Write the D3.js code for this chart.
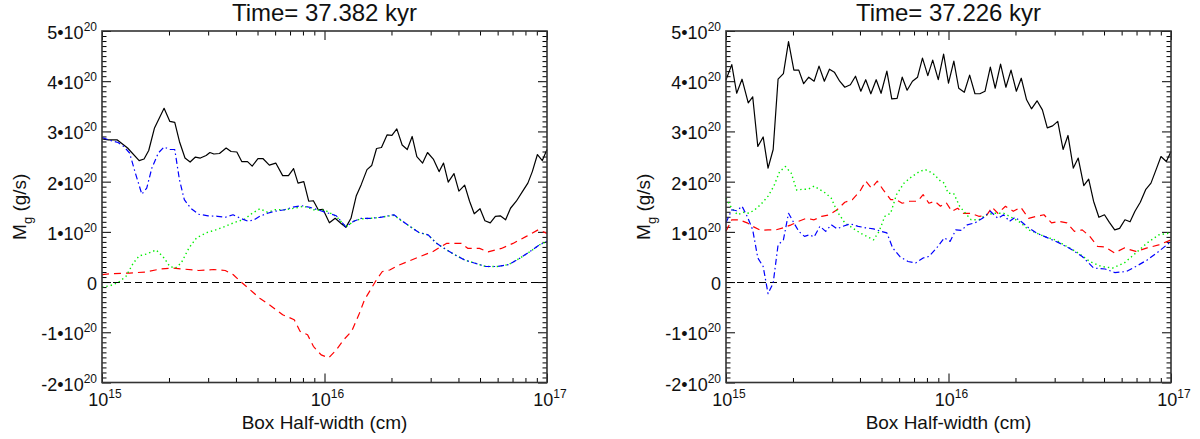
<!DOCTYPE html>
<html>
<head>
<meta charset="utf-8">
<script src="https://cdn.jsdelivr.net/npm/d3@7"></script>
<style>
  html, body { margin: 0; padding: 0; background: #fff; }
  svg { display: block; font-family: "Liberation Sans", Arial, Helvetica, sans-serif; }
</style>
</head>
<body>
<svg id="chart" width="1200" height="439"></svg>
<script>
// ---------------- DATA ----------------
// x: log10(box half-width / cm), y: mass flux in units of 1e20 g/s
const titles = ["Time= 37.382 kyr", "Time= 37.226 kyr"];
const xTitle = "Box Half-width (cm)";
const xMajorTicks = [1e15, 1e16, 1e17];
const xMajorExp = ["15", "16", "17"];
const yMajorTicks = [-2, -1, 0, 1, 2, 3, 4, 5];      // x 1e20
const yTickMantissa = ["-2", "-1", "0", "1", "2", "3", "4", "5"];
const yTickExp = "20";

// Left panel (t = 37.382 kyr)
const leftSolid = [
 [15.000,2.85],[15.029,2.83],[15.069,2.83],[15.115,2.67],[15.167,2.42],[15.189,2.45],[15.210,2.62],
 [15.236,3.07],[15.279,3.46],[15.305,3.20],[15.327,3.18],[15.348,2.80],[15.373,2.47],[15.396,2.39],
 [15.420,2.49],[15.442,2.47],[15.468,2.52],[15.485,2.58],[15.503,2.55],[15.528,2.56],[15.558,2.67],
 [15.580,2.60],[15.606,2.59],[15.628,2.40],[15.654,2.40],[15.675,2.31],[15.701,2.46],[15.723,2.46],
 [15.752,2.33],[15.781,2.37],[15.812,2.12],[15.838,2.12],[15.861,2.26],[15.881,1.97],[15.907,2.00],
 [15.929,1.61],[15.950,1.62],[15.972,1.44],[15.993,1.45],[16.022,1.18],[16.048,1.27],[16.076,1.16],
 [16.096,1.09],[16.119,1.27],[16.143,1.72],[16.165,1.94],[16.191,2.24],[16.212,2.32],[16.234,2.66],
 [16.256,2.68],[16.281,2.93],[16.303,2.92],[16.325,3.05],[16.349,2.73],[16.372,2.64],[16.394,2.90],
 [16.415,2.50],[16.441,2.37],[16.463,2.58],[16.489,2.45],[16.515,2.20],[16.535,2.37],[16.556,1.99],
 [16.582,2.16],[16.604,1.81],[16.630,1.93],[16.652,1.61],[16.673,1.36],[16.699,1.46],[16.721,1.22],
 [16.745,1.18],[16.768,1.31],[16.790,1.32],[16.814,1.24],[16.836,1.47],[16.862,1.61],[16.888,1.79],
 [16.914,1.97],[16.934,2.20],[16.957,2.54],[16.979,2.42],[17.000,2.64]
];
const leftDashed = [
 [15.000,0.15],[15.055,0.17],[15.124,0.18],[15.193,0.20],[15.262,0.26],[15.313,0.28],[15.365,0.26],
 [15.434,0.23],[15.503,0.25],[15.554,0.23],[15.589,0.15],[15.623,0.01],[15.657,-0.12],[15.709,-0.32],
 [15.761,-0.48],[15.812,-0.65],[15.864,-0.75],[15.890,-0.98],[15.924,-1.05],[15.950,-1.28],[15.985,-1.45],
 [16.019,-1.51],[16.053,-1.35],[16.088,-1.14],[16.122,-0.98],[16.157,-0.62],[16.180,-0.35],[16.233,0.04],
 [16.260,0.21],[16.293,0.24],[16.330,0.33],[16.413,0.48],[16.488,0.61],[16.548,0.77],[16.615,0.77],
 [16.645,0.67],[16.697,0.67],[16.735,0.60],[16.795,0.67],[16.847,0.77],[16.907,0.91],[16.960,1.04],
 [17.000,0.97]
];
const leftDotted = [
 [15.000,-0.10],[15.038,-0.07],[15.072,-0.01],[15.107,0.11],[15.141,0.38],[15.167,0.52],[15.201,0.56],
 [15.244,0.64],[15.279,0.48],[15.305,0.31],[15.330,0.28],[15.356,0.38],[15.391,0.68],[15.425,0.88],
 [15.468,0.98],[15.511,1.04],[15.554,1.11],[15.597,1.19],[15.640,1.25],[15.675,1.37],[15.709,1.46],
 [15.744,1.39],[15.778,1.44],[15.821,1.44],[15.864,1.47],[15.907,1.51],[15.950,1.44],[16.002,1.43],
 [16.053,1.31],[16.096,1.10],[16.131,1.21],[16.165,1.26],[16.208,1.27],[16.251,1.29],[16.312,1.33],
 [16.346,1.22],[16.380,1.12],[16.423,0.99],[16.466,0.94],[16.501,0.78],[16.535,0.68],[16.587,0.54],
 [16.630,0.44],[16.673,0.38],[16.725,0.31],[16.776,0.31],[16.828,0.35],[16.880,0.48],[16.931,0.63],
 [16.966,0.74],[17.000,0.81]
];
const leftDashDot = [
 [15.000,2.88],[15.038,2.82],[15.072,2.78],[15.098,2.70],[15.124,2.57],[15.150,2.17],[15.179,1.75],
 [15.201,1.87],[15.224,2.27],[15.253,2.57],[15.279,2.69],[15.305,2.64],[15.327,2.64],[15.348,2.04],
 [15.370,1.64],[15.399,1.47],[15.434,1.35],[15.477,1.32],[15.520,1.31],[15.554,1.29],[15.589,1.34],
 [15.623,1.27],[15.657,1.21],[15.683,1.24],[15.709,1.31],[15.744,1.37],[15.778,1.41],[15.821,1.44],
 [15.855,1.49],[15.898,1.52],[15.933,1.49],[15.976,1.43],[16.019,1.37],[16.053,1.32],[16.096,1.10],
 [16.131,1.21],[16.165,1.27],[16.208,1.27],[16.251,1.29],[16.312,1.34],[16.346,1.23],[16.380,1.12],
 [16.423,0.99],[16.466,0.94],[16.501,0.78],[16.535,0.68],[16.587,0.54],[16.630,0.44],[16.673,0.38],
 [16.725,0.31],[16.776,0.31],[16.828,0.35],[16.880,0.48],[16.931,0.63],[16.966,0.74],[17.000,0.81]
];

// Right panel (t = 37.226 kyr)
const rightSolid = [
 [15.000,4.03],[15.026,4.33],[15.048,3.76],[15.072,4.04],[15.100,3.57],[15.120,3.69],[15.143,2.70],
 [15.167,2.89],[15.189,2.27],[15.212,2.64],[15.234,4.04],[15.258,4.15],[15.281,4.79],[15.305,4.22],
 [15.327,4.22],[15.349,3.95],[15.372,4.08],[15.396,4.00],[15.418,4.30],[15.442,4.00],[15.465,4.24],
 [15.487,4.18],[15.511,4.00],[15.534,3.88],[15.559,3.93],[15.582,4.10],[15.606,3.80],[15.628,4.03],
 [15.651,3.75],[15.675,4.03],[15.697,3.76],[15.723,4.20],[15.745,3.65],[15.769,3.66],[15.792,4.08],
 [15.814,3.82],[15.838,4.00],[15.861,4.08],[15.883,4.46],[15.907,4.11],[15.929,4.42],[15.954,4.03],
 [15.978,4.54],[16.000,3.96],[16.024,4.40],[16.046,3.86],[16.071,3.78],[16.095,4.12],[16.119,3.75],
 [16.141,3.75],[16.164,3.80],[16.188,4.28],[16.210,3.86],[16.234,4.34],[16.258,3.88],[16.281,4.22],
 [16.305,3.80],[16.327,4.06],[16.351,3.63],[16.373,3.45],[16.398,3.61],[16.422,3.43],[16.444,3.07],
 [16.468,3.11],[16.491,3.20],[16.515,2.64],[16.537,2.92],[16.561,2.27],[16.583,2.47],[16.608,1.92],
 [16.630,2.05],[16.652,1.61],[16.676,1.29],[16.701,1.34],[16.723,1.19],[16.747,1.04],[16.769,1.07],
 [16.793,1.24],[16.816,1.20],[16.838,1.41],[16.862,1.59],[16.886,1.84],[16.910,1.97],[16.933,2.24],
 [16.955,2.50],[16.979,2.40],[17.000,2.60]
];
const rightDashed = [
 [15.000,1.01],[15.026,1.24],[15.060,1.24],[15.095,1.18],[15.120,1.11],[15.155,1.03],[15.189,1.04],
 [15.224,1.04],[15.258,1.08],[15.293,1.14],[15.327,1.21],[15.361,1.27],[15.396,1.24],[15.430,1.31],
 [15.465,1.34],[15.499,1.44],[15.534,1.59],[15.568,1.64],[15.602,1.81],[15.628,2.01],[15.654,1.87],
 [15.680,2.01],[15.706,1.84],[15.740,1.64],[15.766,1.64],[15.792,1.57],[15.826,1.61],[15.861,1.61],
 [15.886,1.74],[15.912,1.57],[15.938,1.61],[15.964,1.51],[15.990,1.58],[16.015,1.41],[16.041,1.47],
 [16.067,1.37],[16.102,1.37],[16.136,1.31],[16.170,1.32],[16.196,1.49],[16.222,1.37],[16.256,1.51],
 [16.291,1.41],[16.325,1.49],[16.360,1.27],[16.394,1.31],[16.429,1.34],[16.463,1.18],[16.497,1.21],
 [16.532,1.18],[16.566,1.01],[16.601,1.04],[16.635,0.91],[16.670,0.71],[16.704,0.70],[16.747,0.58],
 [16.790,0.68],[16.842,0.61],[16.893,0.68],[16.945,0.74],[17.000,0.84]
];
const rightDotted = [
 [15.000,1.67],[15.026,1.47],[15.052,1.34],[15.077,1.39],[15.103,1.37],[15.129,1.44],[15.155,1.54],
 [15.189,1.71],[15.215,1.91],[15.241,2.20],[15.267,2.30],[15.293,2.17],[15.318,1.83],[15.344,1.85],
 [15.370,1.85],[15.396,1.91],[15.422,1.84],[15.448,1.77],[15.473,1.67],[15.499,1.41],[15.534,1.18],
 [15.568,1.08],[15.602,0.98],[15.637,0.90],[15.663,0.84],[15.688,1.01],[15.714,1.31],[15.740,1.37],
 [15.766,1.74],[15.800,1.97],[15.835,2.10],[15.869,2.20],[15.895,2.24],[15.929,2.17],[15.964,2.01],
 [15.981,1.97],[15.998,1.77],[16.024,1.76],[16.050,1.51],[16.076,1.37],[16.102,1.24],[16.136,1.24],
 [16.170,1.34],[16.205,1.37],[16.248,1.37],[16.291,1.27],[16.325,1.18],[16.360,1.04],[16.394,0.98],
 [16.429,0.91],[16.480,0.84],[16.532,0.71],[16.583,0.58],[16.635,0.41],[16.687,0.31],[16.738,0.28],
 [16.790,0.38],[16.842,0.58],[16.893,0.78],[16.945,0.94],[17.000,0.98]
];
const rightDashDot = [
 [15.000,1.18],[15.026,1.44],[15.048,1.42],[15.072,1.51],[15.095,1.31],[15.120,1.04],[15.143,0.48],
 [15.167,0.31],[15.189,-0.23],[15.212,-0.02],[15.234,0.74],[15.258,0.84],[15.281,1.37],[15.305,1.18],
 [15.327,1.01],[15.353,0.91],[15.375,0.94],[15.396,0.90],[15.422,1.11],[15.448,1.01],[15.473,1.14],
 [15.499,1.06],[15.525,1.11],[15.559,1.16],[15.594,1.11],[15.628,1.08],[15.663,1.06],[15.697,1.01],
 [15.723,0.98],[15.749,0.68],[15.783,0.50],[15.818,0.41],[15.852,0.38],[15.886,0.48],[15.912,0.51],
 [15.947,0.68],[15.981,0.88],[16.007,0.81],[16.033,1.04],[16.059,1.03],[16.084,1.14],[16.119,1.18],
 [16.153,1.27],[16.188,1.41],[16.222,1.27],[16.248,1.34],[16.274,1.21],[16.299,1.29],[16.325,1.21],
 [16.360,1.08],[16.394,0.98],[16.446,0.88],[16.497,0.78],[16.549,0.66],[16.601,0.51],[16.652,0.28],
 [16.704,0.26],[16.747,0.19],[16.799,0.21],[16.842,0.31],[16.893,0.44],[16.945,0.61],[17.000,0.81]
];

// ---------------- LAYOUT / STYLE ----------------
const styles = [
  { color: "#000000", dash: null,          width: 1.2 },  // solid
  { color: "#ff0000", dash: "7,5",         width: 1.2 },  // dashed
  { color: "#00ee00", dash: "1.4,3",       width: 1.4 },  // dotted
  { color: "#0000ff", dash: "6,3,1.5,3",   width: 1.2 }   // dash-dot
];
const panels = [
  { x0: 102, title: titles[0], series: [leftSolid, leftDashed, leftDotted, leftDashDot] },
  { x0: 726, title: titles[1], series: [rightSolid, rightDashed, rightDotted, rightDashDot] }
];
const plotW = 445, plotTop = 31, plotBottom = 382.5;
const majorLen = 9, minorLen = 4.5;
const tickFont = 18, supFont = 12, labelFont = 19, titleFont = 24;

const svg = d3.select("#chart");

const xMinor = [];
[1e15, 1e16].forEach(dec => { for (let k = 2; k <= 9; k++) xMinor.push(k * dec); });
const yMinor = [];
for (let i = -20; i <= 50; i++) { if (i % 10 !== 0) yMinor.push(i / 10 * 1e20); }
const yMajorVals = yMajorTicks.map(v => v * 1e20);

panels.forEach(p => {
  const x = d3.scaleLog().domain([1e15, 1e17]).range([p.x0, p.x0 + plotW]);
  const y = d3.scaleLinear().domain([-2e20, 5e20]).range([plotBottom, plotTop]);
  const g = svg.append("g");

  // tick marks (inward, all four sides)
  function addAxis(axisFn, scale, vals, len, tx, ty) {
    const a = g.append("g").attr("transform", `translate(${tx},${ty})`)
      .call(axisFn(scale).tickValues(vals).tickSizeInner(-len).tickSizeOuter(0).tickFormat(""));
    a.select(".domain").remove();
    a.selectAll(".tick line").attr("stroke", "#000").attr("stroke-width", 1);
  }
  addAxis(d3.axisBottom, x, xMajorTicks, majorLen, 0, plotBottom);
  addAxis(d3.axisBottom, x, xMinor, minorLen, 0, plotBottom);
  addAxis(d3.axisTop, x, xMajorTicks, majorLen, 0, plotTop);
  addAxis(d3.axisTop, x, xMinor, minorLen, 0, plotTop);
  addAxis(d3.axisLeft, y, yMajorVals, majorLen, p.x0, 0);
  addAxis(d3.axisLeft, y, yMinor, minorLen, p.x0, 0);
  addAxis(d3.axisRight, y, yMajorVals, majorLen, p.x0 + plotW, 0);
  addAxis(d3.axisRight, y, yMinor, minorLen, p.x0 + plotW, 0);

  // zero line
  g.append("line")
    .attr("x1", x(1e15)).attr("x2", x(1e17))
    .attr("y1", Math.round(y(0)) + 0.5).attr("y2", Math.round(y(0)) + 0.5)
    .attr("stroke", "#000").attr("stroke-width", 1.1).attr("stroke-dasharray", "7,4");

  // data lines
  const line = d3.line().x(d => x(Math.pow(10, d[0]))).y(d => y(d[1] * 1e20));
  p.series.forEach((s, i) => {
    const st = styles[i];
    g.append("path").datum(s)
      .attr("d", line)
      .attr("fill", "none")
      .attr("stroke", st.color)
      .attr("stroke-width", st.width)
      .attr("stroke-linejoin", "round")
      .attr("stroke-dasharray", st.dash);
  });

  // frame
  g.append("rect")
    .attr("x", x(1e15)).attr("y", plotTop)
    .attr("width", x(1e17) - x(1e15)).attr("height", plotBottom - plotTop)
    .attr("fill", "none").attr("stroke", "#333").attr("stroke-width", 1.6);

  // y tick labels
  yMajorTicks.forEach((v, i) => {
    const t = g.append("text")
      .attr("x", p.x0 - 5).attr("y", y(v * 1e20) + 8)
      .attr("text-anchor", "end").attr("font-size", tickFont).attr("fill", "#111");
    if (v === 0) {
      t.text("0");
    } else {
      t.append("tspan").text(yTickMantissa[i] + "\u202210");
      t.append("tspan").attr("dy", -8).attr("font-size", supFont).text(yTickExp);
    }
  });

  // x tick labels
  xMajorTicks.forEach((v, i) => {
    const t = g.append("text")
      .attr("x", x(v) + 3).attr("y", plotBottom + 23)
      .attr("text-anchor", "middle").attr("font-size", tickFont).attr("fill", "#111");
    t.append("tspan").text("10");
    t.append("tspan").attr("dy", -8).attr("font-size", supFont).text(xMajorExp[i]);
  });

  // x axis title
  g.append("text")
    .attr("x", p.x0 + plotW / 2).attr("y", plotBottom + 46)
    .attr("text-anchor", "middle").attr("font-size", labelFont).attr("fill", "#111")
    .text(xTitle);

  // y axis title
  const yt = g.append("text")
    .attr("transform", `translate(${p.x0 - 76},${(plotTop + plotBottom) / 2}) rotate(-90)`)
    .attr("text-anchor", "middle").attr("font-size", labelFont).attr("fill", "#111");
  yt.append("tspan").text("M");
  yt.append("tspan").attr("dy", 6).attr("font-size", 13).text("g");
  yt.append("tspan").attr("dy", -6).text(" (g/s)");

  // title
  g.append("text")
    .attr("x", p.x0 + plotW / 2).attr("y", 21)
    .attr("text-anchor", "middle").attr("font-size", titleFont).attr("fill", "#111")
    .text(p.title);
});
</script>
</body>
</html>
